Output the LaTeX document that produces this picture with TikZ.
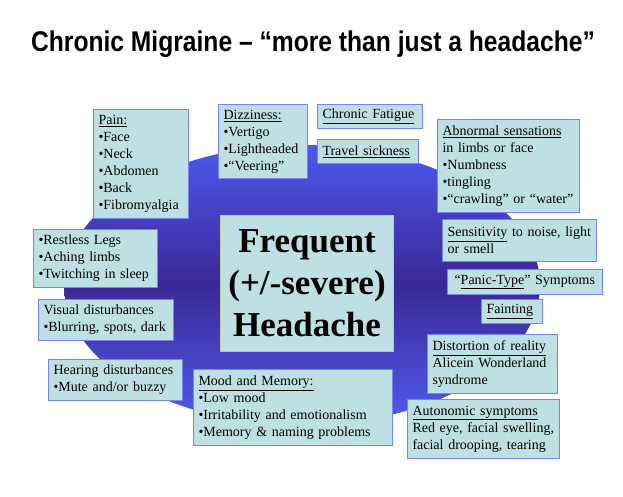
\documentclass[tikz,border=0pt]{standalone}
\usepackage{fontspec}
\setmainfont{Liberation Serif}
\newfontfamily\titlefont{Liberation Sans}
\usetikzlibrary{shapes.geometric}
\definecolor{boxfill}{RGB}{190,224,228}
\definecolor{boxline}{RGB}{122,130,240}
\definecolor{coreline}{RGB}{205,205,130}
\definecolor{blobtop}{RGB}{78,88,238}
\definecolor{blobmid}{RGB}{58,40,150}
\definecolor{blobbot}{RGB}{80,92,240}
\tikzset{
  symptom/.style = {draw=boxline, fill=boxfill, line width=1pt, anchor=north west,
                    align=left, inner xsep=5pt, inner ysep=0pt,
                    font=\fontsize{14}{17}\selectfont},
  core/.style    = {draw=coreline, fill=boxfill, line width=1pt, anchor=north west,
                    align=center, inner sep=0pt, font=\bfseries\fontsize{35}{42}\selectfont},
  blob/.style    = {ellipse, inner sep=0pt, top color=blobtop, bottom color=blobbot,
                    middle color=blobmid},
}

\begin{document}
\begin{tikzpicture}[x=1pt, y=-1pt]
  \fill[white] (0,0) rectangle (623,496);
  \useasboundingbox (0,0) rectangle (623,496);
  \node[anchor=base, font=\titlefont\bfseries\fontsize{28.5}{30}\selectfont] (title) at (313,51)
    {\scalebox{0.864}[1]{Chronic Migraine – “more than just a headache”}};
  \node[blob, minimum width=476pt, minimum height=280pt] (oval) at (302,285) {};
  \node[core, minimum width=173pt, minimum height=136pt] (head) at (220,215) {Frequent\\(+/-severe)\\Headache};
  \node[symptom, text width=85pt, minimum height=109pt] (pain) at (93,109)
    {\underline{Pain:}\\•Face\\•Neck\\•Abdomen\\•Back\\•Fibromyalgia};
  \node[symptom, text width=79pt, minimum height=74pt] (dizzy) at (218,104)
    {\underline{Dizziness:}\\•Vertigo\\•Lightheaded\\•“Veering”};
  \node[symptom, text width=95pt, minimum height=24pt] (fatigue) at (317,104) {\underline{Chronic Fatigue}};
  \node[symptom, text width=91pt, minimum height=24pt] (travel) at (317,139) {\underline{Travel sickness}};
  \node[symptom, text width=132pt, minimum height=93pt] (abnormal) at (437,119)
    {\underline{Abnormal sensations}\\in limbs or face\\•Numbness\\•tingling\\•“crawling” or “water”};
  \node[symptom, text width=114pt, minimum height=58pt] (legs) at (33,229)
    {•Restless Legs\\•Aching limbs\\•Twitching in sleep};
  \node[symptom, text width=125pt, minimum height=41pt] (visual) at (38,299)
    {Visual disturbances\\•Blurring, spots, dark};
  \node[symptom, text width=124pt, minimum height=41pt] (hearing) at (48,359)
    {Hearing disturbances\\•Mute and/or buzzy};
  \node[symptom, text width=144pt, minimum height=42pt] (sense) at (442,219)
    {\underline{Sensitivity} to noise, light\\or smell};
  \node[symptom, text width=145pt, minimum height=25pt] (panic) at (447,269)
    {\hspace{2pt}“\underline{Panic-Type}” Symptoms};
  \node[symptom, text width=51pt, minimum height=24pt] (faint) at (481,299) {\underline{Fainting}};
  \node[symptom, text width=189pt, minimum height=76pt] (mood) at (193,369)
    {\underline{Mood and Memory:}\\•Low mood\\•Irritability and emotionalism\\•Memory \& naming problems};
  \node[symptom, text width=120pt, minimum height=59pt] (distort) at (427,334)
    {\underline{Distortion of reality}\\Alicein Wonderland\\syndrome};
  \node[symptom, text width=142pt, minimum height=59pt] (auto) at (407,399)
    {\underline{Autonomic symptoms}\\Red eye, facial swelling,\\facial drooping, tearing};
\end{tikzpicture}
\end{document}
